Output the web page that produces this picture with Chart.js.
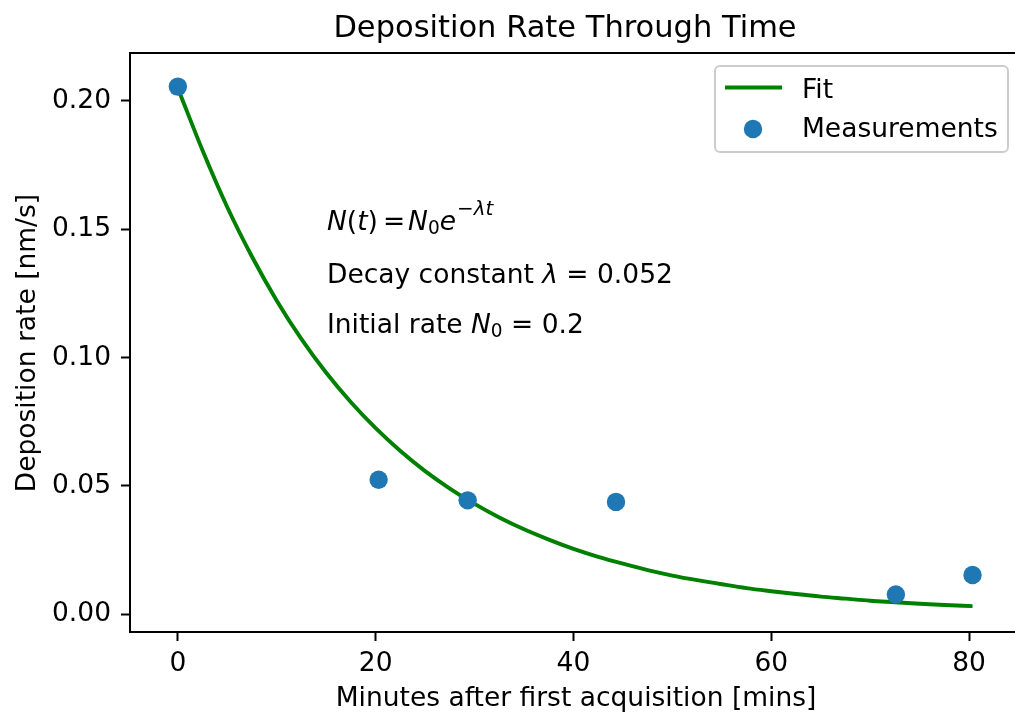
<!DOCTYPE html>
<html lang="en">
<head>
  <meta charset="UTF-8">
  <title>Deposition Rate Through Time</title>
  <script src="https://cdn.jsdelivr.net/npm/chart.js@4.4.5/dist/chart.umd.min.js"></script>
  <style>
    html, body { margin: 0; padding: 0; background: #fff; overflow: hidden; }
    canvas { display: block; }
  </style>
</head>
<body>
  <canvas id="rateChart" width="1030" height="713"></canvas>

  <script>
    // Measurements (minutes, nm/s)
    const measTime = [0, 20.3, 29.3, 44.3, 72.6, 80.35];
    const measRate = [0.2056, 0.0524, 0.0444, 0.0438, 0.0077, 0.0153];

    // Fit curve, every 2.5 minutes
    const fitTime = [0, 2.5, 5, 7.5, 10, 12.5, 15, 17.5, 20, 22.5, 25, 27.5, 30, 32.5, 35, 37.5, 40,
                     42.5, 45, 47.5, 50, 52.5, 55, 57.5, 60, 62.5, 65, 67.5, 70, 72.5, 75, 77.5, 80.35];
    const fitRate = [0.205, 0.1807, 0.1586, 0.1393, 0.1222, 0.1072, 0.0941, 0.0826, 0.0725, 0.0636,
                     0.0558, 0.0490, 0.0430, 0.0377, 0.0331, 0.0291, 0.0255, 0.0224, 0.0197, 0.0172,
                     0.0151, 0.0133, 0.0117, 0.0102, 0.0090, 0.0079, 0.0069, 0.0061, 0.0053, 0.0047,
                     0.0041, 0.0036, 0.0032];

    const xTickStep = 20;
    const yTickStep = 0.05;

    const FONT = "'DejaVu Sans', sans-serif";
    const FS = 26.5;
    const GREEN = '#008000';
    const BLUE = '#1f77b4';

    // draw a run of text pieces (roman / italic / sub / super)
    function drawRuns(ctx, x, y, runs, size) {
      runs.forEach(r => {
        const s = size * (r.s || 1);
        ctx.font = (r.it ? 'italic ' : '') + s + 'px ' + FONT;
        ctx.fillText(r.t, x, y + (r.dy || 0));
        x += ctx.measureText(r.t).width + (r.gap || 0);
      });
    }

    const decorations = {
      id: 'decorations',
      afterDraw(chart) {
        const ctx = chart.ctx;
        const a = chart.chartArea;
        ctx.save();

        // top + right spines
        ctx.strokeStyle = '#000';
        ctx.lineWidth = 2;
        ctx.beginPath();
        ctx.moveTo(a.left - 1, a.top);
        ctx.lineTo(a.right, a.top);
        ctx.lineTo(a.right, a.bottom);
        ctx.stroke();

        ctx.fillStyle = '#000';
        ctx.textBaseline = 'alphabetic';

        // title
        ctx.textAlign = 'center';
        ctx.font = '30.5px ' + FONT;
        ctx.fillText('Deposition Rate Through Time', 565, 37);

        // axis titles
        ctx.font = FS + 'px ' + FONT;
        ctx.fillText('Minutes after first acquisition [mins]', 576, 706);
        ctx.save();
        ctx.translate(35, 343);
        ctx.rotate(-Math.PI / 2);
        ctx.fillText('Deposition rate [nm/s]', 0, 0);
        ctx.restore();

        // annotation
        ctx.textAlign = 'left';
        drawRuns(ctx, 327, 230, [
          { t: 'N', it: true }, { t: '(' }, { t: 't', it: true }, { t: ')', gap: 5 },
          { t: '=', gap: 3 }, { t: 'N', it: true }, { t: '0', s: 0.7, dy: 4 },
          { t: 'e', it: true, gap: 1 }, { t: '\u2212\u03bbt', it: true, s: 0.75, dy: -15 }
        ], FS);
        drawRuns(ctx, 327, 282.5, [
          { t: 'Decay constant ' }, { t: '\u03bb', it: true }, { t: ' = 0.052' }
        ], FS);
        drawRuns(ctx, 327, 332.5, [
          { t: 'Initial rate ' }, { t: 'N', it: true }, { t: '0', s: 0.7, dy: 4 }, { t: ' = 0.2' }
        ], FS);

        // legend
        ctx.beginPath();
        ctx.roundRect(715, 66, 293, 86, 5);
        ctx.fillStyle = 'rgba(255,255,255,0.8)';
        ctx.fill();
        ctx.strokeStyle = '#cccccc';
        ctx.lineWidth = 2;
        ctx.stroke();

        ctx.strokeStyle = GREEN;
        ctx.lineWidth = 3.9;
        ctx.beginPath();
        ctx.moveTo(725, 87.5);
        ctx.lineTo(782, 87.5);
        ctx.stroke();

        ctx.fillStyle = BLUE;
        ctx.beginPath();
        ctx.arc(753, 129, 9.2, 0, Math.PI * 2);
        ctx.fill();

        ctx.fillStyle = '#000';
        ctx.font = FS + 'px ' + FONT;
        ctx.fillText('Fit', 802, 97.5);
        ctx.fillText('Measurements', 802, 136.7);

        ctx.restore();
      }
    };

    const tickStyle = { color: '#000', font: { family: FONT, size: FS } };

    new Chart(document.getElementById('rateChart'), {
      type: 'scatter',
      data: {
        datasets: [
          {
            label: 'Measurements',
            data: measTime.map((t, i) => ({ x: t, y: measRate[i] })),
            backgroundColor: BLUE,
            borderWidth: 0,
            pointRadius: 9.2,
            pointHoverRadius: 9.2
          },
          {
            type: 'line',
            label: 'Fit',
            data: fitTime.map((t, i) => ({ x: t, y: fitRate[i] })),
            borderColor: GREEN,
            borderWidth: 3.9,
            pointRadius: 0,
            fill: false,
            cubicInterpolationMode: 'monotone'
          }
        ]
      },
      options: {
        responsive: false,
        animation: false,
        devicePixelRatio: 1,
        events: [],
        layout: { padding: { top: 53, right: 7, left: 0, bottom: 0 } },
        plugins: { legend: { display: false }, title: { display: false }, tooltip: { enabled: false } },
        scales: {
          x: {
            type: 'linear',
            min: -4.84,
            max: 85.23,
            afterFit: s => { s.height = 81; },
            border: { display: true, color: '#000', width: 2 },
            grid: { drawOnChartArea: false, drawTicks: true, tickLength: 9, tickWidth: 2, tickColor: '#000' },
            ticks: Object.assign({ stepSize: xTickStep, includeBounds: false, padding: 7, maxRotation: 0,
                                   callback: v => String(v) }, tickStyle)
          },
          y: {
            type: 'linear',
            min: -0.0069,
            max: 0.2187,
            afterFit: s => { s.width = 130; },
            border: { display: true, color: '#000', width: 2 },
            grid: { drawOnChartArea: false, drawTicks: true, tickLength: 9, tickWidth: 2, tickColor: '#000' },
            ticks: Object.assign({ stepSize: yTickStep, includeBounds: false, padding: 10,
                                   callback: v => v.toFixed(2) }, tickStyle)
          }
        }
      },
      plugins: [decorations]
    });
  </script>
</body>
</html>
